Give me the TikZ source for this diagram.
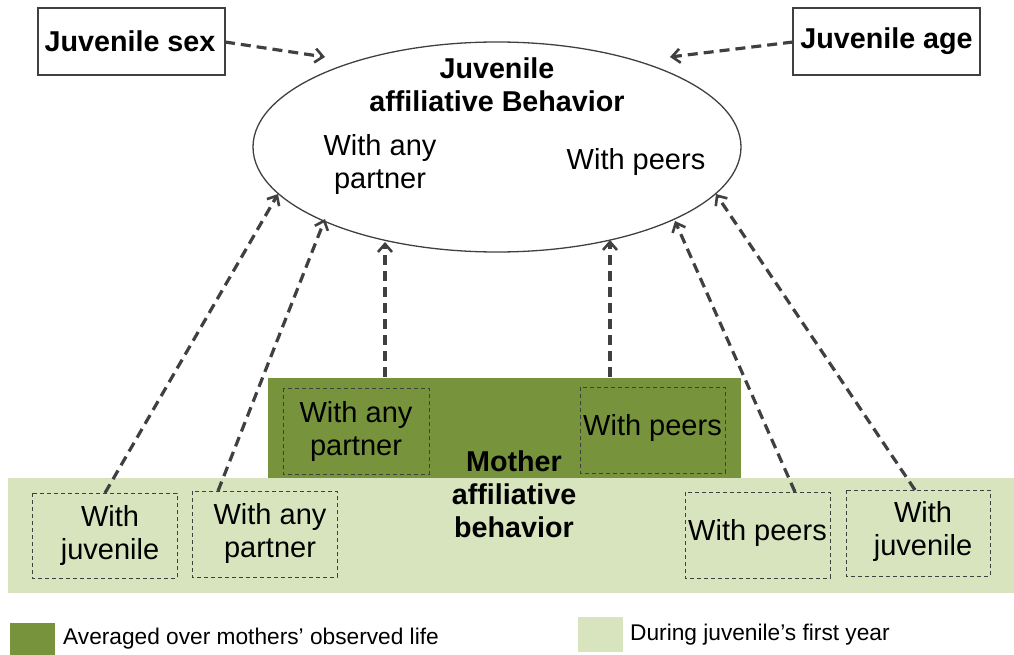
\documentclass[tikz,border=0pt]{standalone}
\usepackage{fontspec}
\setmainfont{Liberation Sans}
\usetikzlibrary{arrows.meta,shapes.geometric}
\definecolor{darkg}{HTML}{77933C}
\definecolor{lightg}{HTML}{D7E4BD}
\definecolor{lin}{HTML}{404040}
\begin{document}
\begin{tikzpicture}[x=1pt,y=-1pt,
  txt/.style={font=\fontsize{29}{33}\selectfont,align=center,inner sep=0pt},
  btxt/.style={font=\fontsize{28.7}{33}\selectfont\bfseries,align=center,inner sep=0pt},
  topbox/.style={draw=lin,line width=1.3pt,fill=white},
  dbox/.style={draw=lin,line width=1pt,dash pattern=on 4pt off 3pt},
  conn/.style={draw=lin,line width=3.2pt,dash pattern=on 10pt off 6pt,-{Straight Barb[length=8pt,width=14pt,line width=2.6pt]}},
  legtxt/.style={font=\fontsize{22.7}{26}\selectfont,anchor=west,inner sep=0pt}]
\useasboundingbox (0,0) rectangle (1014,655);
% background bands
\fill[lightg] (8,478) rectangle (1014,593);
\fill[darkg] (268,378) rectangle (741,478);
% top boxes
\draw[topbox] (38,8) rectangle (225,75);
\node[btxt] (sex) at (130,41.5) {Juvenile sex};
\draw[topbox] (793,8) rectangle (980,75);
\node[btxt] (age) at (886.5,41.5) {Juvenile age};
\coordinate (sexR) at (225,42);
\coordinate (ageL) at (793,42);
% ellipse
\node[draw=lin,line width=1.3pt,ellipse,minimum width=488pt,minimum height=210pt,inner sep=0pt] (ell) at (497,147) {};
\node[btxt] (jtitle) at (497,85) {Juvenile\\affiliative Behavior};
\node[txt] (eany) at (380,165) {With any\\partner};
\node[txt] (epeer) at (636,162) {With peers};
% dark inner boxes
\draw[dbox] (283,388) rectangle (429,474);
\node[txt] (dany) at (356,431) {With any\\partner};
\draw[dbox] (580,387) rectangle (725,473);
\node[txt] (dpeer) at (652.5,428) {With peers};
\node[btxt] (mother) at (514,494) {Mother\\affiliative\\behavior};
% light inner boxes
\draw[dbox] (32,493) rectangle (177,578);
\node[txt] (ljuv) at (110,535) {With\\juvenile};
\draw[dbox] (192,491) rectangle (337,577);
\node[txt] (lany) at (270,533) {With any\\partner};
\draw[dbox] (685,492) rectangle (830,578);
\node[txt] (rpeer) at (757.5,533) {With peers};
\draw[dbox] (846,490) rectangle (990,576);
\node[txt] (rjuv) at (923,531) {With\\juvenile};
% connector endpoints
\coordinate (a1s) at (105,493); \coordinate (a1e) at (278,194);
\coordinate (a2s) at (218,491); \coordinate (a2e) at (325,219);
\coordinate (a3s) at (385,377); \coordinate (a3e) at (385,242);
\coordinate (a4s) at (610,377); \coordinate (a4e) at (610,240);
\coordinate (a5s) at (795,492); \coordinate (a5e) at (675,221);
\coordinate (a6s) at (915,490); \coordinate (a6e) at (716,194);
\coordinate (sexE) at (325,57); \coordinate (ageE) at (670,57);
\draw[conn] (sexR) -- (sexE);
\draw[conn] (ageL) -- (ageE);
\draw[conn] (a1s) -- (a1e);
\draw[conn] (a2s) -- (a2e);
\draw[conn] (a3s) -- (a3e);
\draw[conn] (a4s) -- (a4e);
\draw[conn] (a5s) -- (a5e);
\draw[conn] (a6s) -- (a6e);
% legend
\fill[darkg] (10,623) rectangle (55,655);
\node[legtxt] (leg1) at (63,639) {Averaged over mothers’ observed life};
\fill[lightg] (578,617) rectangle (623,652);
\node[legtxt] (leg2) at (630,635) {During juvenile’s first year};
\end{tikzpicture}
\end{document}
